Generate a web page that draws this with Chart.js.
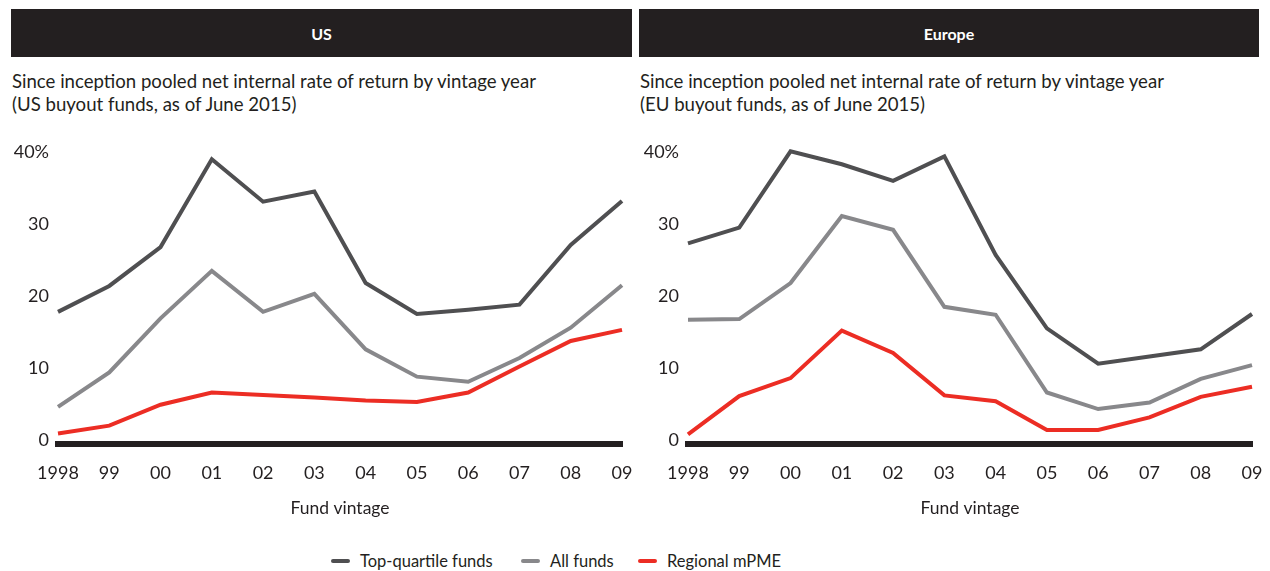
<!DOCTYPE html>
<html>
<head>
<meta charset="utf-8">
<script src="https://cdn.jsdelivr.net/npm/chart.js@4.4.1/dist/chart.umd.min.js"></script>
<style>
  html, body { margin: 0; padding: 0; background: #fff; }
  body { width: 1270px; height: 571px; position: relative; overflow: hidden; font-family: "Lato", "Noto Sans", sans-serif; color: #231f20; }
  .hdr { position: absolute; top: 9px; height: 48px; background: #231f20; color: #fff; font-weight: bold; font-size: 16px; display: flex; align-items: center; justify-content: center; }
  .sub { position: absolute; top: 70px; font-size: 18.6px; line-height: 22.5px; color: #231f20; white-space: nowrap; }
  .cv { position: absolute; top: 120px; width: 640px; height: 420px; }
  .legend { position: absolute; top: 549px; left: 0; width: 1270px; height: 24px; font-size: 16.5px; color: #231f20; }
  .li { position: absolute; top: 0; display: flex; align-items: center; height: 24px; white-space: nowrap; }
  .mk { width: 19px; height: 4px; border-radius: 2px; margin-right: 10px; }
</style>
</head>
<body>
<div class="hdr" style="left:11px;width:621px;">US</div>
<div class="hdr" style="left:639px;width:620px;">Europe</div>
<div class="sub" style="left:12px;">Since inception pooled net internal rate of return by vintage year<br>(US buyout funds, as of June 2015)</div>
<div class="sub" style="left:640px;">Since inception pooled net internal rate of return by vintage year<br>(EU buyout funds, as of June 2015)</div>
<div class="cv" style="left:0px;"><canvas id="us" width="640" height="420"></canvas></div>
<div class="cv" style="left:630px;"><canvas id="eu" width="640" height="420"></canvas></div>
<div class="legend">
  <div class="li" style="left:331px;"><div class="mk" style="background:#4f4f51"></div>Top-quartile funds</div>
  <div class="li" style="left:521px;"><div class="mk" style="background:#88888b"></div>All funds</div>
  <div class="li" style="left:638px;"><div class="mk" style="background:#ec2d24"></div>Regional mPME</div>
</div>
<script>
const categories = ["1998", "99", "00", "01", "02", "03", "04", "05", "06", "07", "08", "09"];
const yTicks = [0, 10, 20, 30, 40];
const seriesNames = ["Top-quartile funds", "All funds", "Regional mPME"];
const seriesColors = ["#4f4f51", "#88888b", "#ec2d24"];

const usTopQuartile = [17.8, 21.4, 26.8, 39.0, 33.1, 34.5, 21.8, 17.5, 18.1, 18.8, 27.1, 33.2];
const usAllFunds    = [4.6, 9.4, 16.9, 23.5, 17.8, 20.3, 12.6, 8.8, 8.1, 11.4, 15.6, 21.5];
const usMPME        = [0.9, 2.0, 4.9, 6.6, 6.25, 5.9, 5.5, 5.3, 6.6, 10.2, 13.75, 15.3];

const euTopQuartile = [27.3, 29.5, 40.1, 38.3, 36.0, 39.4, 25.7, 15.5, 10.6, 11.6, 12.6, 17.5];
const euAllFunds    = [16.7, 16.8, 21.8, 31.1, 29.2, 18.5, 17.4, 6.6, 4.3, 5.2, 8.5, 10.4];
const euMPME        = [0.8, 6.1, 8.6, 15.2, 12.1, 6.2, 5.4, 1.4, 1.4, 3.15, 6.0, 7.4];

const tickFont = { family: "Lato, 'Noto Sans', sans-serif", size: 18 };

function makeChart(id, series) {
  const datasets = series.map((d, i) => ({
    label: seriesNames[i],
    data: d,
    borderColor: seriesColors[i],
    backgroundColor: seriesColors[i],
    borderWidth: 4,
    pointRadius: 0,
    tension: 0,
    clip: false,
    borderJoinStyle: 'miter'
  })).reverse();
  return new Chart(document.getElementById(id), {
    type: 'line',
    data: { labels: categories, datasets },
    options: {
      responsive: false,
      animation: false,
      events: [],
      layout: { padding: { top: 32, right: 18, left: 0, bottom: 21 } },
      plugins: { legend: { display: false }, tooltip: { enabled: false } },
      scales: {
        x: {
          offset: false,
          grid: { display: false, drawTicks: false },
          border: { display: true, color: '#231f20', width: 6 },
          ticks: { color: '#231f20', font: tickFont, padding: 18, maxRotation: 0, autoSkip: false },
          title: { display: true, text: 'Fund vintage', color: '#231f20', font: { family: tickFont.family, size: 17.5 }, padding: { top: 0, bottom: 0 } },
          afterFit: (s) => { s.height = 75; s.paddingLeft = 0; s.paddingRight = 0; }
        },
        y: {
          min: -0.55,
          max: 40,
          grid: { display: false, drawTicks: false },
          border: { display: false },
          ticks: {
            color: '#231f20', font: tickFont, padding: 9,
            callback: (v) => (v === 40 ? '40%' : String(v))
          },
          afterBuildTicks: (s) => { s.ticks = yTicks.map(v => ({ value: v })); },
          afterFit: (s) => { s.width = 58; }
        }
      }
    }
  });
}

makeChart('us', [usTopQuartile, usAllFunds, usMPME]);
makeChart('eu', [euTopQuartile, euAllFunds, euMPME]);
</script>
</body>
</html>
